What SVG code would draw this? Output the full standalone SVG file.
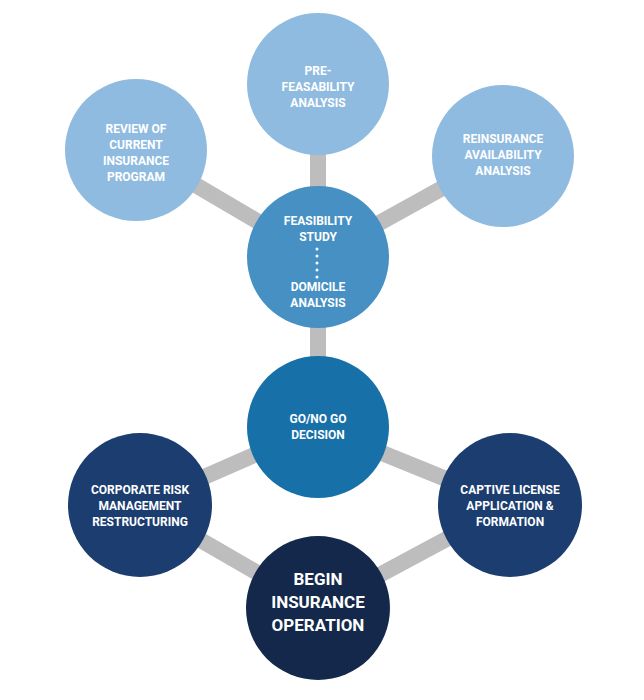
<svg xmlns="http://www.w3.org/2000/svg" width="644" height="700" viewBox="0 0 644 700">
<style>
.c{stroke:none}
text{font-family:Roboto,"Liberation Sans",sans-serif;font-weight:bold;fill:#fff;text-anchor:middle;font-size:12px}
.big{font-size:17px}
line{stroke:#bdbdbd;stroke-width:16}
</style>
<rect width="644" height="700" fill="#fff"/>
<g id="connectors">
<line x1="318" y1="85" x2="318" y2="257"/>
<line x1="136" y1="150" x2="318" y2="257"/>
<line x1="502" y1="155" x2="318" y2="257"/>
<line x1="318" y1="257" x2="318" y2="427"/>
<line x1="318" y1="427" x2="140" y2="505"/>
<line x1="318" y1="427" x2="510" y2="505"/>
<line x1="140" y1="505" x2="318" y2="608"/>
<line x1="510" y1="505" x2="318" y2="608"/>
</g>
<g id="pre"><circle cx="318" cy="84" r="71" fill="#8fbbe0"/>
<text x="318" y="75">PRE-</text><text x="318" y="91">FEASABILITY</text><text x="318" y="107">ANALYSIS</text></g>
<g id="review"><circle cx="136" cy="150" r="71" fill="#8fbbe0"/>
<text x="136" y="133">REVIEW OF</text><text x="136" y="149">CURRENT</text><text x="136" y="165">INSURANCE</text><text x="136" y="181">PROGRAM</text></g>
<g id="reins"><circle cx="503" cy="156" r="71" fill="#8fbbe0"/>
<text x="503" y="143">REINSURANCE</text><text x="503" y="159">AVAILABILITY</text><text x="503" y="175">ANALYSIS</text></g>
<g id="feas"><circle cx="318" cy="257" r="71" fill="#4690c3"/>
<text x="318" y="225">FEASIBILITY</text><text x="318" y="241">STUDY</text>
<g fill="#fff"><circle cx="317" cy="249" r="1.5"/><circle cx="317" cy="256" r="1.5"/><circle cx="317" cy="263" r="1.5"/><circle cx="317" cy="270" r="1.5"/><circle cx="317" cy="277" r="1.5"/></g>
<text x="318" y="291">DOMICILE</text><text x="318" y="307">ANALYSIS</text></g>
<g id="gonogo"><circle cx="318" cy="427" r="71" fill="#1870a8"/>
<text x="318" y="423">GO/NO GO</text><text x="318" y="439">DECISION</text></g>
<g id="corp"><circle cx="140" cy="505" r="72" fill="#1b3d6f"/>
<text x="140" y="494">CORPORATE RISK</text><text x="140" y="510">MANAGEMENT</text><text x="140" y="526">RESTRUCTURING</text></g>
<g id="captive"><circle cx="510" cy="505" r="72" fill="#1b3d6f"/>
<text x="510" y="494">CAPTIVE LICENSE</text><text x="510" y="510">APPLICATION &amp;</text><text x="510" y="526">FORMATION</text></g>
<g id="begin"><circle cx="318" cy="608" r="72" fill="#13284b"/>
<text class="big" x="318" y="585">BEGIN</text><text class="big" x="318" y="608">INSURANCE</text><text class="big" x="318" y="631">OPERATION</text></g>
</svg>
